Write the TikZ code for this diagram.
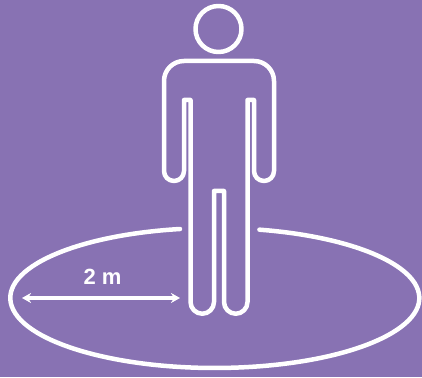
\documentclass[tikz,border=0pt]{standalone}
\usepackage{fontspec}
\setsansfont{Liberation Sans}
\usetikzlibrary{arrows.meta,positioning}
\definecolor{zoneBack}{HTML}{8872B3}
\tikzset{
  every picture/.style={font=\sffamily, text=white},
  zone outline/.style={draw=white, line width=4.5pt, line join=round, line cap=round},
  zone arrow/.style={{Stealth[length=9pt,width=10pt]}-{Stealth[length=9pt,width=10pt]},
    draw=white, line width=3.4pt, line cap=butt},
  zone label/.style={font=\sffamily\bfseries\fontsize{22}{24}\selectfont, inner sep=0pt}
}

\begin{document}
\begin{tikzpicture}[x=1pt,y=1pt]
  \fill[zoneBack] (0,0) rectangle (422,377);
  \useasboundingbox (0,0) rectangle (422,377);
  % head and body
  \draw[zone outline] (218.5,348) circle (23);
  \draw[zone outline] (190.5,277) -- (190.5,75) arc (180:360:11.75) -- (214,186) -- (224,186)
    -- (224,75) arc (180:360:11.75) -- (247.5,277) -- (254,277) -- (254,206) arc (180:360:10)
    -- (274,296) arc (0:90:20) -- (184,316) arc (90:180:20) -- (164,206) arc (180:360:10)
    -- (184,277) -- cycle;
  % circle on the ground
  \draw[zone outline] (180,148) arc (99.8:437.4:204.5 and 70);
  \coordinate (radius rim) at (22,79);
  \coordinate (radius end) at (180,79);
  \draw[zone arrow] (radius rim) -- (radius end);
  \node[zone label] (radius label) at (102.5,100) {2 m};
\end{tikzpicture}
\end{document}
